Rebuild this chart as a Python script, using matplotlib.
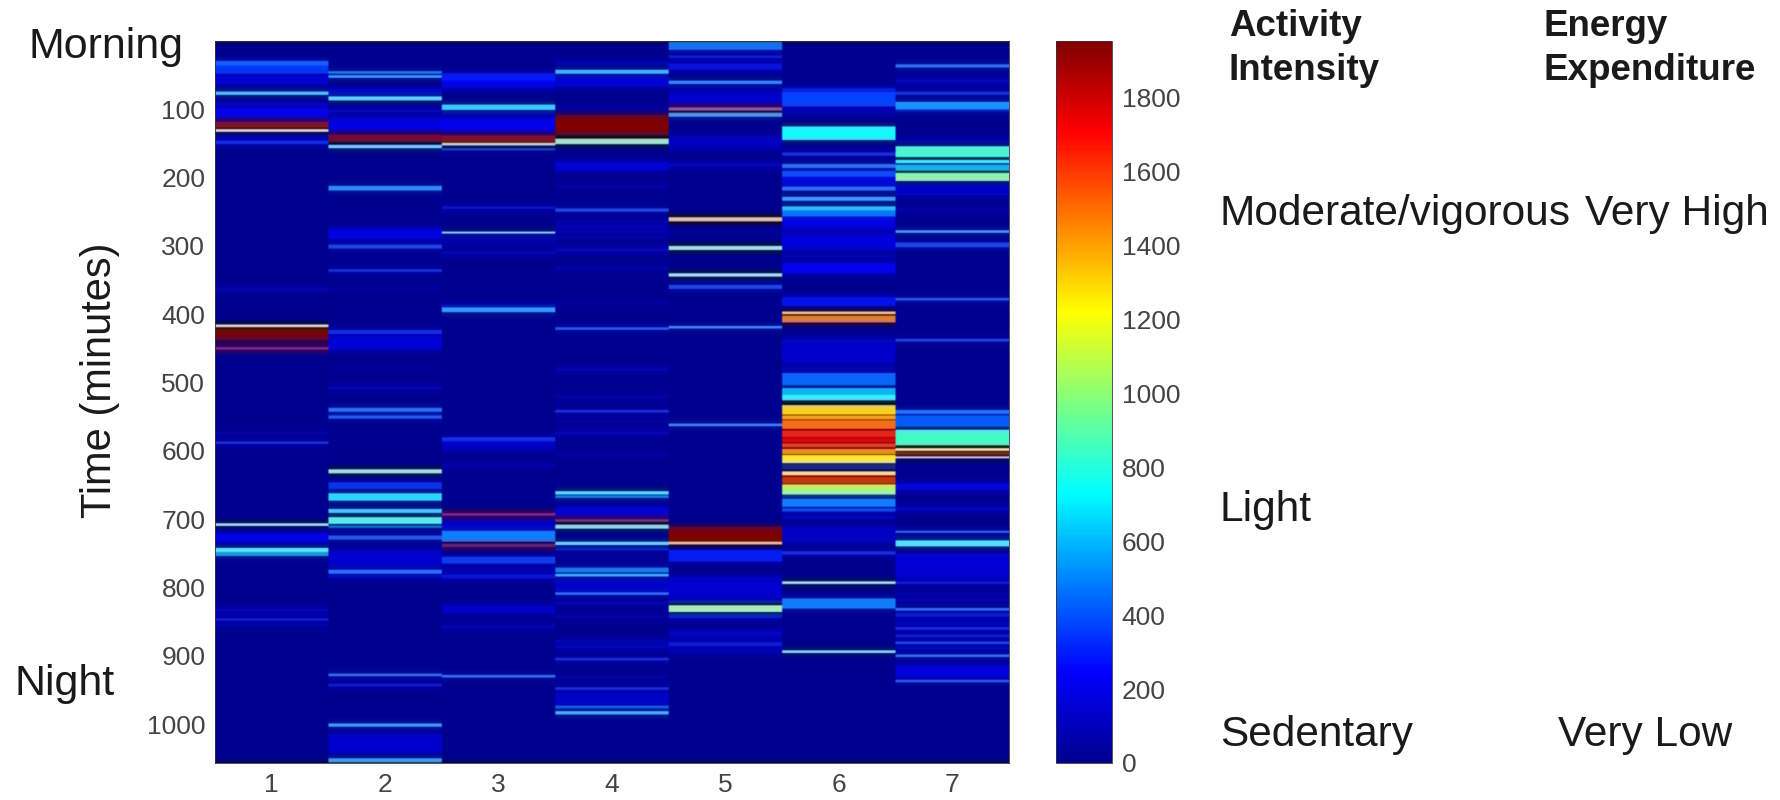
import numpy as np
import matplotlib
matplotlib.use('Agg')
import matplotlib.pyplot as plt
from matplotlib.cm import ScalarMappable
from matplotlib.colors import LinearSegmentedColormap, Normalize

plt.rcParams['font.family'] = ['Liberation Sans', 'DejaVu Sans']

# each day is (first minute, last minute, activity counts), the rest of the day is 0
day1 = [(29, 36, 450), (36, 48, 350), (52, 64, 180), (74, 79, 700), (90, 94, 200), (98, 113, 230),
        (118, 127, 1850), (129, 133, 1100), (136, 146, 100), (146, 151, 350), (361, 366, 130),
        (415, 419, 1100), (421, 438, 1950), (448, 452, 1700), (572, 576, 100), (586, 590, 350),
        (706, 710, 1000), (720, 733, 230), (736, 740, 100), (742, 748, 850), (748, 754, 550),
        (831, 835, 200), (845, 849, 300), (853, 857, 100)]
day2 = [(44, 48, 500), (50, 54, 600), (71, 78, 250), (81, 87, 800), (100, 104, 230), (113, 132, 200),
        (137, 148, 1900), (152, 157, 800), (212, 219, 550), (275, 290, 220), (298, 304, 400),
        (334, 338, 350), (361, 365, 70), (423, 429, 350), (433, 452, 180), (480, 484, 60),
        (506, 510, 180), (537, 543, 500), (548, 553, 450), (627, 633, 1000), (646, 656, 350),
        (662, 673, 700), (685, 691, 700), (697, 707, 850), (709, 713, 450), (724, 730, 450),
        (745, 770, 150), (774, 780, 500), (782, 786, 200), (926, 930, 500), (941, 945, 300),
        (999, 1004, 600), (1014, 1043, 150), (1050, 1056, 600)]
day3 = [(47, 58, 300), (58, 69, 220), (93, 101, 700), (104, 108, 150), (113, 133, 220),
        (138, 148, 1850), (149, 153, 1000), (157, 160, 400), (242, 246, 280), (279, 282, 900),
        (284, 296, 100), (308, 312, 200), (386, 390, 200), (390, 397, 600), (580, 586, 350),
        (586, 600, 120), (618, 624, 100), (691, 695, 1700), (701, 716, 130), (717, 733, 500),
        (736, 741, 1800), (755, 765, 370), (771, 777, 100), (781, 787, 280), (826, 838, 160),
        (855, 860, 160), (928, 932, 500)]
day4 = [(30, 35, 150), (42, 48, 650), (52, 67, 180), (99, 103, 120), (108, 138, 1950), (143, 151, 1000),
        (177, 189, 200), (211, 215, 120), (245, 250, 400), (263, 266, 150), (270, 274, 130),
        (277, 281, 120), (285, 289, 100), (304, 308, 230), (331, 335, 130), (382, 386, 80),
        (419, 423, 450), (479, 483, 180), (519, 523, 130), (540, 544, 350), (555, 559, 80),
        (572, 576, 200), (603, 607, 100), (659, 664, 800), (665, 669, 500), (683, 695, 200),
        (700, 704, 1700), (708, 714, 900), (733, 738, 800), (742, 746, 300), (755, 759, 60),
        (771, 778, 500), (780, 784, 650), (789, 806, 150), (807, 811, 500), (821, 825, 180),
        (841, 845, 130), (877, 881, 150), (885, 889, 200), (903, 907, 350), (929, 933, 100),
        (946, 950, 350), (955, 970, 150), (973, 977, 450), (981, 986, 650)]
day5 = [(1, 13, 480), (21, 25, 300), (33, 42, 280), (58, 63, 550), (65, 69, 80), (74, 94, 150),
        (97, 102, 1600), (105, 111, 600), (140, 155, 130), (157, 160, 120), (179, 184, 200),
        (258, 264, 1300), (275, 279, 60), (300, 306, 1000), (340, 345, 1000), (357, 363, 400),
        (417, 421, 550), (560, 564, 550), (711, 733, 1950), (733, 737, 1300), (745, 762, 300),
        (784, 816, 150), (819, 823, 300), (826, 836, 1050), (838, 845, 300), (864, 872, 180),
        (880, 886, 300), (890, 898, 100)]
day6 = [(69, 75, 300), (75, 96, 380), (100, 107, 120), (125, 145, 750), (163, 168, 350), (180, 186, 500),
        (190, 199, 400), (200, 210, 230), (213, 219, 500), (228, 234, 600), (242, 248, 650),
        (248, 257, 480), (258, 275, 200), (281, 306, 170), (313, 317, 130), (325, 340, 250),
        (375, 388, 280), (396, 400, 1300), (402, 412, 1480), (437, 443, 200), (445, 472, 140),
        (477, 481, 150), (486, 504, 450), (508, 518, 600), (518, 526, 800), (533, 547, 1300),
        (548, 554, 1400), (555, 568, 1500), (570, 580, 1650), (581, 588, 1750), (589, 595, 1600),
        (597, 605, 1450), (606, 618, 1250), (619, 627, 300), (630, 636, 1250), (638, 648, 1650),
        (649, 664, 1050), (664, 668, 300), (670, 682, 500), (684, 689, 400), (695, 699, 200),
        (712, 723, 150), (726, 733, 180), (747, 752, 350), (791, 795, 1000), (816, 831, 500),
        (892, 896, 900)]
day7 = [(34, 39, 500), (56, 61, 220), (74, 79, 350), (89, 100, 550), (100, 103, 300), (145, 149, 180),
        (154, 170, 850), (174, 179, 800), (181, 190, 600), (193, 205, 1000), (206, 220, 150),
        (222, 226, 200), (245, 249, 130), (277, 281, 600), (295, 302, 400), (376, 380, 450),
        (436, 440, 400), (540, 546, 500), (548, 565, 420), (569, 592, 850), (596, 600, 1200),
        (601, 606, 1800), (608, 611, 1000), (648, 657, 250), (682, 687, 220), (717, 720, 500),
        (724, 728, 100), (731, 740, 800), (751, 756, 250), (757, 787, 160), (791, 795, 300),
        (807, 811, 130), (816, 820, 130), (830, 834, 500), (838, 843, 300), (851, 855, 200),
        (858, 862, 350), (869, 873, 300), (879, 883, 400), (887, 891, 200), (898, 902, 500),
        (914, 931, 200), (935, 939, 450)]

days = [day1, day2, day3, day4, day5, day6, day7]
n_minutes = 1057
vmax = 1954
time_ticks = [100, 200, 300, 400, 500, 600, 700, 800, 900, 1000]
count_ticks = [0, 200, 400, 600, 800, 1000, 1200, 1400, 1600, 1800]

# matlab's jet, starts a bit brighter than the matplotlib one
matlab_jet = LinearSegmentedColormap.from_list('matlab_jet', [
    (0, (0, 0, 0.5625)), (0.125, (0, 0, 1)), (0.375, (0, 1, 1)), (0.625, (1, 1, 0)),
    (0.875, (1, 0, 0)), (1, (0.5, 0, 0))])


def smooth(values, width):
    kernel = np.hanning(width + 2)[1:-1]
    return np.convolve(values, kernel / kernel.sum(), mode='same')


def soften_colour(rgb, width=25):
    """Smear colour much more than brightness along time, the scan is a heavily compressed jpeg"""
    luma = rgb @ np.array([0.299, 0.587, 0.114])
    chroma = rgb - luma[:, :, None]
    for col in range(rgb.shape[1]):
        luma[:, col] = smooth(luma[:, col], 3)
        for c in range(3):
            chroma[:, col, c] = smooth(chroma[:, col, c], width)
    return np.clip(chroma + luma[:, :, None], 0, 1)


def build_matrix():
    counts = np.zeros((n_minutes, len(days)))
    for col, day in enumerate(days):
        for start, end, value in day:
            counts[start:end, col] = value
    return counts


def px_rect(left, top, right, bottom):
    return [left / 1781, 1 - bottom / 800, (right - left) / 1781, (bottom - top) / 800]


fig = plt.figure(figsize=(17.81, 8), dpi=100)
fig.patch.set_facecolor('white')

ax = fig.add_axes(px_rect(215, 41, 1009, 763))
norm = Normalize(0, vmax)
rgb = soften_colour(matlab_jet(norm(build_matrix()))[:, :, :3])
rgb = np.repeat(rgb, 40, axis=1)
ax.imshow(rgb, aspect='auto', interpolation='hanning', extent=[0.5, 7.5, n_minutes, 0])
ax.set_xticks(range(1, 8))
ax.set_yticks(time_ticks)
ax.tick_params(length=0, labelsize=19, labelcolor='#444444', pad=7)
for spine in ax.spines.values():
    spine.set_linewidth(0.6)
    spine.set_color('#333344')

cax = fig.add_axes(px_rect(1056, 41, 1112, 763))
cb = fig.colorbar(ScalarMappable(norm=norm, cmap=matlab_jet), cax=cax)
cb.set_ticks(count_ticks)
cb.ax.tick_params(length=0, labelsize=19, labelcolor='#444444', pad=7)
cb.outline.set_linewidth(0.6)
cb.outline.set_edgecolor('#333344')


def label(x, y, text, **kw):
    fig.text(x / 1781, 1 - y / 800, text, va='center', color='#1a1a1a', **kw)


label(100, 380, 'Time (minutes)', fontsize=30, rotation=90, ha='center')
label(29, 47, 'Morning', fontsize=31)
label(15, 684, 'Night', fontsize=31)
label(1229, 26, 'Activity', fontsize=26.5, fontweight='bold')
label(1229, 70, 'Intensity', fontsize=26.5, fontweight='bold')
label(1544, 26, 'Energy', fontsize=26.5, fontweight='bold')
label(1544, 70, 'Expenditure', fontsize=26.5, fontweight='bold')
label(1220, 214, 'Moderate/vigorous', fontsize=30.5)
label(1585, 214, 'Very High', fontsize=30.5)
label(1220, 510, 'Light', fontsize=30.5)
label(1220, 735, 'Sedentary', fontsize=30.5)
label(1558, 735, 'Very Low', fontsize=30.5)

plt.savefig('out.png', dpi=100)
